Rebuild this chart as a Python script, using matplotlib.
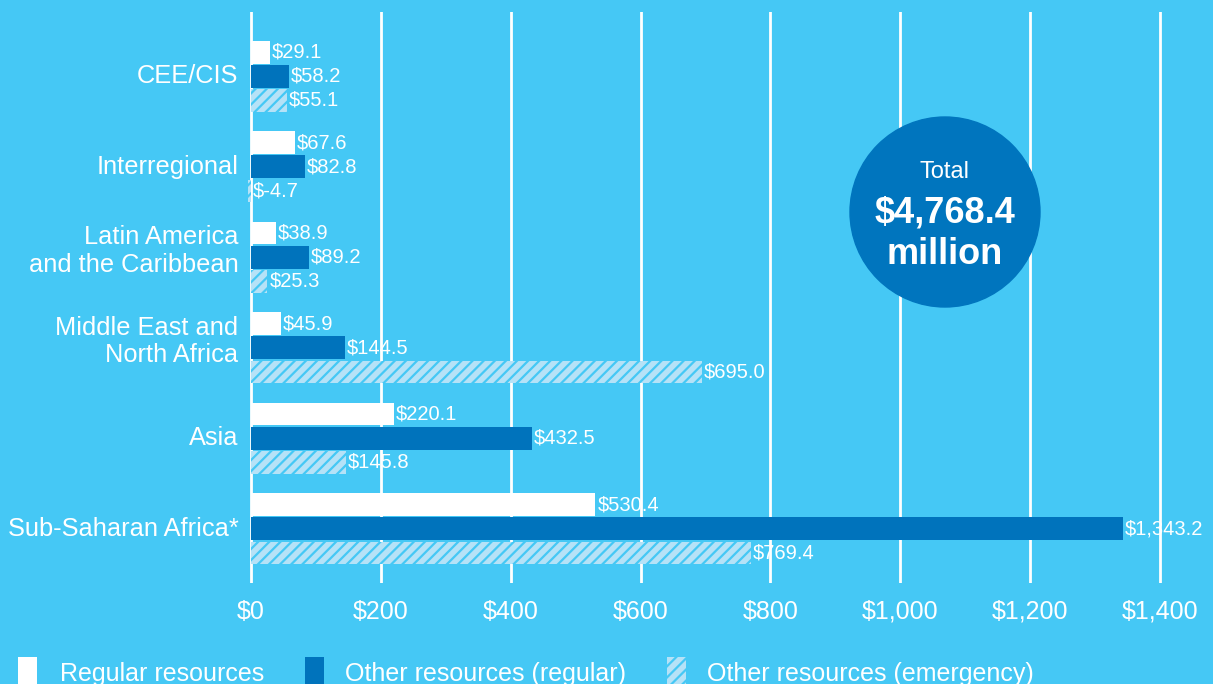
import matplotlib
matplotlib.use('Agg')
import matplotlib.pyplot as plt
from matplotlib.patches import Circle, Rectangle

plt.rcParams['font.family'] = ['Liberation Sans', 'DejaVu Sans']

regions = ['CEE/CIS', 'Interregional', 'Latin America\nand the Caribbean',
           'Middle East and\nNorth Africa', 'Asia', 'Sub-Saharan Africa*']
regular = [29.1, 67.6, 38.9, 45.9, 220.1, 530.4]
other_regular = [58.2, 82.8, 89.2, 144.5, 432.5, 1343.2]
other_emergency = [55.1, -4.7, 25.3, 695.0, 145.8, 769.4]
series_names = ['Regular resources', 'Other resources (regular)', 'Other resources (emergency)']
ticks = [0, 200, 400, 600, 800, 1000, 1200, 1400]
tick_labels = ['$0', '$200', '$400', '$600', '$800', '$1,000', '$1,200', '$1,400']

BG = '#45C8F5'
DARK = '#0073BC'
LIGHT = '#B5E2F7'

fig = plt.figure(figsize=(12.13, 6.84), dpi=100, facecolor=BG)
# axes: x=0 at px 251, 1400 at px 1160
x0_px, x1400_px = 251, 1160
ppu = (x1400_px - x0_px) / 1400.0
xmin, xmax = -15, (1213 - x0_px) / ppu
left = (x0_px + xmin * ppu) / 1213
ax = fig.add_axes([left, 101 / 684, 1 - left, 571 / 684])
ax.set_facecolor(BG)
ax.set_xlim(xmin, xmax)
ax.set_ylim(5.6, -0.711)

for t in ticks:
    ax.axvline(t, color='white', lw=2, zorder=0)

step = 24 / 90
h = 22.5 / 90
ys = list(range(len(regions)))
ax.barh([y - step for y in ys], regular, height=h, color='white', zorder=2)
ax.barh(ys, other_regular, height=h, color=DARK, zorder=2)
matplotlib.rcParams['hatch.linewidth'] = 1.6
ax.barh([y + step for y in ys], other_emergency, height=h, color=LIGHT,
        edgecolor=BG, hatch='///', linewidth=0, zorder=2)

for vals, off in [(regular, -step), (other_regular, 0), (other_emergency, step)]:
    for y, v in zip(ys, vals):
        ax.text(max(v, 0) + 3, y + off, '$' + f'{v:,.1f}', color='white',
                fontsize=14.5, va='center', ha='left', zorder=3)

# category labels (two-line ones sit a little above the group centre)
ax.set_yticks([])
for y, name in zip(ys, regions):
    yy = y - 0.07 if '\n' in name else y
    ax.text(-0.003, yy, name, transform=ax.get_yaxis_transform(), fontsize=18.3,
            color='white', ha='right', va='center', linespacing=1.2)

ax.set_xticks(ticks)
ax.set_xticklabels(tick_labels, fontsize=18, color='white')
ax.tick_params(length=0)
ax.tick_params(axis='x', pad=12)
for s in ax.spines.values():
    s.set_visible(False)

# total circle
cx = 945 / 1213
circ = Circle((945, 684 - 212), 95, transform=None, color='#0075BE', zorder=1)
fig.patches.append(circ)
fig.text(cx, 1 - 172 / 684, 'Total', color='white', fontsize=17, ha='center', va='center', zorder=10)
fig.text(cx, 1 - 213 / 684, '$4,768.4', color='white', fontsize=26, fontweight='bold',
         ha='center', va='center', zorder=10)
fig.text(cx, 1 - 255 / 684, 'million', color='white', fontsize=26, fontweight='bold',
         ha='center', va='center', zorder=10)

# legend
leg = [(18, 'white', None, 60), (305, DARK, None, 345), (667, LIGHT, '///', 707)]
for (px, col, hatch, tx), name in zip(leg, series_names):
    rect = Rectangle((px / 1213, 0), 19 / 1213, 27 / 684, transform=fig.transFigure,
                     facecolor=col, edgecolor=BG if hatch else col, hatch=hatch, linewidth=0)
    fig.patches.append(rect)
    fig.text(tx / 1213, 1 - 674 / 684, name, color='white', fontsize=18, ha='left', va='center')

fig.savefig('out.png', dpi=100, facecolor=BG)
